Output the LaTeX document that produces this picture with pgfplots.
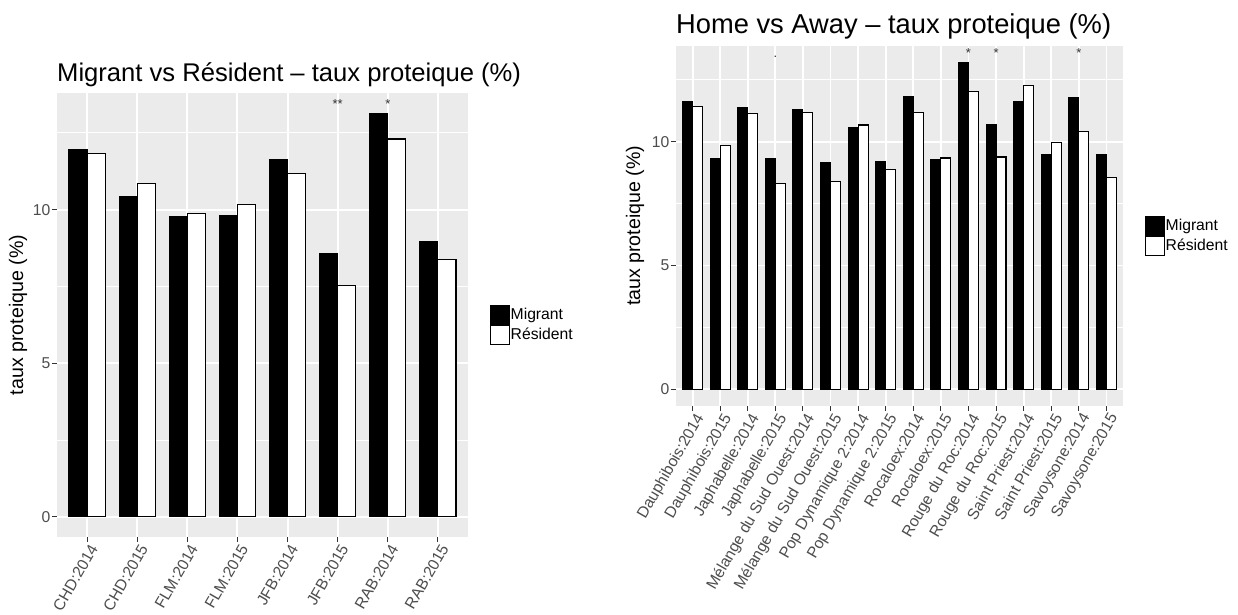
\documentclass[border=0pt]{standalone}
\usepackage{pgfplots}
\pgfplotsset{compat=1.18}
\usepackage{fontspec}
\setmainfont{Liberation Sans}
\definecolor{panelbg}{HTML}{EBEBEB}
\definecolor{ticktext}{HTML}{4D4D4D}
\definecolor{tickmark}{HTML}{333333}

\pgfplotsset{
  gg/.style={
    scale only axis,
    clip=false,
    axis background/.style={fill=panelbg},
    axis line style={draw=none},
    tick pos=left,
    tick align=outside,
    major tick length=4.9pt,
    minor tick length=0pt,
    major tick style={tickmark, line width=1.1pt},
    xmajorgrids, ymajorgrids, yminorgrids,
    major grid style={white, line width=1.9pt},
    minor grid style={white, line width=0.95pt},
    ytick={0,5,10}, yticklabels={0,5,10},
    minor ytick={2.5,7.5,12.5},
    yticklabel style={font=\fontsize{15.7}{18}\selectfont, color=ticktext, anchor=east, inner sep=0pt, xshift=-1.5pt},
    xticklabel style={font=\fontsize{15.7}{18}\selectfont, color=ticktext, rotate=60, anchor=north east, inner sep=0pt, yshift=-2pt},
    legend cell align=left,
    legend style={draw=none, fill=none, inner sep=0pt, anchor=west, xshift=22pt,
      font=\fontsize{15.7}{18}\selectfont, row sep=0pt,
      nodes={inner sep=0.5pt},
      /tikz/every even column/.append style={column sep=0pt}},
  },
  migr/.style={ybar, bar width=0.36, bar shift=-0.18, fill=black, draw=black, line width=1.1pt,
    legend image code/.code={\draw[fill=black, draw=black, line width=1pt] (0pt,-9.5pt) rectangle (19pt,9.5pt);}},
  resi/.style={ybar, bar width=0.36, bar shift=0.18, fill=white, draw=black, line width=1.1pt,
    legend image code/.code={\draw[fill=white, draw=black, line width=1pt] (0pt,-9.5pt) rectangle (19pt,9.5pt);}},
}

\begin{document}
\begin{tikzpicture}
\path[use as bounding box] (0pt,0pt) rectangle (1238pt,614pt);

% Left panel
\begin{axis}[gg,
  at={(57pt,521pt)}, anchor=north west,
  width=411pt, height=444pt,
  xmin=0.4, xmax=8.6, ymin=-0.657, ymax=13.797,
  xtick={1,...,8},
  xticklabels={CHD:2014,CHD:2015,FLM:2014,FLM:2015,JFB:2014,JFB:2015,RAB:2014,RAB:2015},
  legend style={at={(1,0.478)}},
]
\addplot[migr] coordinates {(1,11.94) (2,10.41) (3,9.78) (4,9.81) (5,11.62) (6,8.58) (7,13.14) (8,8.97)};
\addplot[resi] coordinates {(1,11.82) (2,10.85) (3,9.88) (4,10.18) (5,11.17) (6,7.52) (7,12.30) (8,8.38)};
\legend{Migrant,Résident}
\node[anchor=base, font=\fontsize{13}{15}\selectfont, color=tickmark] at (axis cs:6,13.29) {**};
\node[anchor=base, font=\fontsize{13}{15}\selectfont, color=tickmark] at (axis cs:7,13.29) {*};
\node[anchor=base west, inner sep=0pt, font=\fontsize{25.6}{28}\selectfont] at (axis description cs:0,1.026) {Migrant vs Résident – taux proteique (\%)};
\node[rotate=90, anchor=base, inner sep=0pt, font=\fontsize{19.6}{22}\selectfont] at (axis description cs:-0.0827,0.5) {taux proteique (\%)};
\end{axis}

% Right panel
\begin{axis}[gg,
  at={(676pt,568pt)}, anchor=north west,
  width=447pt, height=359.7pt,
  xmin=0.4, xmax=16.6, ymin=-0.66, ymax=13.86,
  xtick={1,...,16},
  xticklabels={Dauphibois:2014,Dauphibois:2015,Japhabelle:2014,Japhabelle:2015,Mélange du Sud Ouest:2014,Mélange du Sud Ouest:2015,Pop Dynamique 2:2014,Pop Dynamique 2:2015,Rocaloex:2014,Rocaloex:2015,Rouge du Roc:2014,Rouge du Roc:2015,Saint Priest:2014,Saint Priest:2015,Savoysone:2014,Savoysone:2015},
  legend style={at={(1,0.473)}},
]
\addplot[migr] coordinates {(1,11.61) (2,9.33) (3,11.37) (4,9.30) (5,11.29) (6,9.14) (7,10.56) (8,9.19) (9,11.80) (10,9.27) (11,13.20) (12,10.67) (13,11.60) (14,9.46) (15,11.79) (16,9.46)};
\addplot[resi] coordinates {(1,11.43) (2,9.83) (3,11.14) (4,8.32) (5,11.17) (6,8.39) (7,10.67) (8,8.87) (9,11.17) (10,9.34) (11,12.03) (12,9.38) (13,12.26) (14,9.96) (15,10.40) (16,8.56)};
\legend{Migrant,Résident}
\node[anchor=base, font=\fontsize{13}{15}\selectfont, color=tickmark] at (axis cs:4,13.41) {.};
\node[anchor=base, font=\fontsize{13}{15}\selectfont, color=tickmark] at (axis cs:11,13.41) {*};
\node[anchor=base, font=\fontsize{13}{15}\selectfont, color=tickmark] at (axis cs:12,13.41) {*};
\node[anchor=base, font=\fontsize{13}{15}\selectfont, color=tickmark] at (axis cs:15,13.41) {*};
\node[anchor=base west, inner sep=0pt, font=\fontsize{27.3}{30}\selectfont] at (axis description cs:0,1.034) {Home vs Away – taux proteique (\%)};
\node[rotate=90, anchor=base, inner sep=0pt, font=\fontsize{19.6}{22}\selectfont] at (axis description cs:-0.0805,0.5) {taux proteique (\%)};
\end{axis}
\end{tikzpicture}
\end{document}
